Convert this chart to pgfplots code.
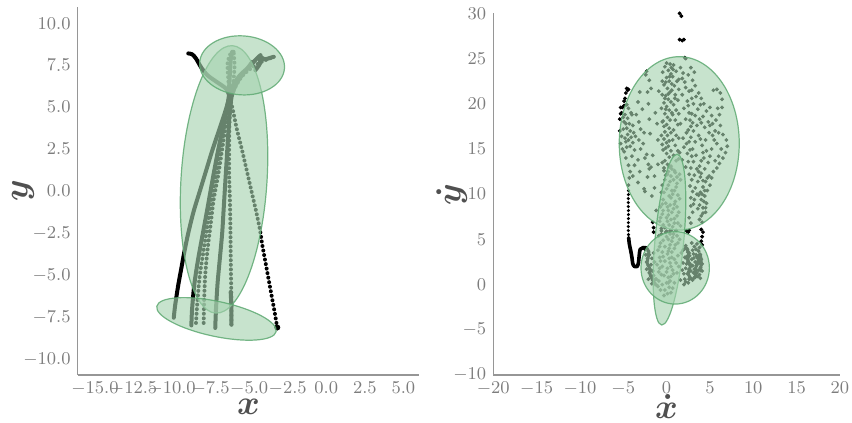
\documentclass[border=0pt]{standalone}
\usepackage{pgfplots}
\pgfplotsset{compat=1.18}
\usepackage{bm}
\definecolor{ellfill}{RGB}{165,210,175}
\definecolor{elledge}{RGB}{95,170,115}
\definecolor{axgrey}{RGB}{150,150,150}
\definecolor{ticktext}{RGB}{125,125,125}
\definecolor{labtext}{RGB}{80,80,80}
\begin{document}
\begin{tikzpicture}
\tikzset{ell/.style={fill=ellfill, fill opacity=0.62, draw=elledge, draw opacity=0.85, line width=0.6pt}}
\pgfplotsset{
  traj/.style={black, line width=2pt, line cap=round, line join=round, smooth, no marks},
  dots/.style={black, line width=2pt, line cap=round, dash pattern=on 0pt off 2.3pt, smooth, no marks},
  pts/.style={black, only marks, mark=*, mark size=0.75pt},
  base/.style={scale only axis, set layers, axis x line=bottom, axis y line=left,
    axis line style={-, axgrey, line width=0.7pt}, major tick length=0pt, tick style={draw=none},
    tick label style={font=\fontsize{8.7}{10}\selectfont, text=ticktext},
    label style={font=\fontsize{16}{18}\selectfont, text=labtext, inner sep=0pt}, clip=false}
}
% ---------------- left panel ----------------
\begin{axis}[base, at={(0pt,0pt)}, anchor=south west, width=170.7pt, height=184.2pt,
  xmin=-16.12, xmax=6.02, ymin=-10.95, ymax=10.99,
  xtick={-15,-12.5,-10,-7.5,-5,-2.5,0,2.5,5}, ytick={-10,-7.5,-5,-2.5,0,2.5,5,7.5,10},
  xticklabel style={/pgf/number format/fixed, /pgf/number format/fixed zerofill, /pgf/number format/precision=1},
  yticklabel style={/pgf/number format/fixed, /pgf/number format/fixed zerofill, /pgf/number format/precision=1},
  xlabel={$\bm{x}$}, ylabel={$\bm{y}$},
  xlabel style={at={(axis description cs:0.5,-0.087)}, anchor=center},
  ylabel style={at={(axis description cs:-0.16,0.5)}, anchor=center}]
\addplot[dots] coordinates {(-3.18,-8.12) (-3.35,-7.2) (-3.55,-6.2) (-3.75,-5.2) (-3.95,-4.2) (-4.15,-3.2) (-4.3,-2.3) (-4.55,-1.2) (-4.8,-0.2) (-5.1,1.0) (-5.45,2.4) (-5.8,3.7) (-6.05,4.8) (-6.25,5.6)};
\addplot[traj] coordinates {(-6.25,5.6) (-6.5,6.1) (-7.1,6.5) (-7.7,6.9) (-8.1,7.35) (-8.45,7.9) (-8.7,8.15) (-8.95,8.2)};
\addplot[black, only marks, mark=*, mark size=1.3pt] coordinates {(-3.18,-8.12)};
\addplot[traj] coordinates {(-9.89,-7.54) (-9.8,-6.8) (-9.6,-5.6) (-9.4,-4.6) (-9.2,-3.6) (-8.95,-2.5) (-8.6,-1.2) (-8.2,0.0) (-7.8,1.2) (-7.4,2.4) (-7.0,3.5) (-6.6,4.6) (-6.35,5.4) (-6.3,6.2) (-6.25,7.0) (-6.2,7.8) (-6.1,8.3)};
\addplot[traj] coordinates {(-8.75,-8.0) (-8.7,-7.0) (-8.55,-5.5) (-8.3,-4.0) (-8.0,-2.5) (-7.7,-1.0) (-7.35,0.8) (-7.0,2.5) (-6.65,4.0) (-6.4,5.2) (-6.1,6.2) (-5.6,6.9) (-5.0,7.4) (-4.5,7.9) (-4.26,8.1)};
\addplot[dots] coordinates {(-8.45,-7.85) (-8.35,-6.5) (-8.2,-5.0) (-7.95,-3.5) (-7.7,-2.0) (-7.4,-0.3) (-7.05,1.5) (-6.75,3.2) (-6.45,4.6) (-6.3,5.6) (-6.35,6.6) (-6.4,7.6) (-6.2,8.2) (-6.0,8.3)};
\addplot[dots] coordinates {(-7.95,-7.85) (-7.92,-6.5) (-7.85,-5.0) (-7.7,-3.5) (-7.5,-2.0) (-7.3,-0.5) (-7.0,1.0) (-6.75,2.5) (-6.5,4.0) (-6.3,5.0) (-6.0,6.0) (-5.5,6.8) (-4.9,7.3) (-4.2,7.7) (-3.4,8.0)};
\addplot[traj] coordinates {(-7.2,-8.15) (-7.15,-7.0) (-7.05,-5.5) (-6.9,-4.0) (-6.75,-2.5) (-6.65,-1.0) (-6.55,0.5) (-6.45,2.0) (-6.35,3.5) (-6.25,4.8) (-6.1,5.8) (-5.7,6.6) (-5.2,7.2) (-4.8,7.7)};
\addplot[dots] coordinates {(-6.15,-7.95) (-6.15,-6.5) (-6.18,-5.0) (-6.2,-3.5) (-6.22,-2.0) (-6.25,-0.5) (-6.3,1.0) (-6.3,2.5) (-6.28,4.0) (-6.2,5.2) (-6.05,6.3) (-5.95,7.4) (-6.0,8.2)};
\addplot[traj] coordinates {(-6.15,-7.95) (-6.15,-7.0) (-6.2,-6.0)};
\addplot[traj] coordinates {(-4.6,7.2) (-4.3,7.6) (-4.3,8.0) (-4.0,7.85) (-3.6,7.95) (-3.4,8.0)};
\begin{pgfonlayer}{axis foreground}
\draw[ell] (axis cs:-6.63,0.70) ellipse [x radius=21.5pt, y radius=67pt, rotate=-3.6];
\draw[ell] (axis cs:-5.46,7.49) ellipse [x radius=21.25pt, y radius=14.75pt, rotate=-4];
\draw[ell] (axis cs:-7.12,-7.61) ellipse [x radius=30.5pt, y radius=8.75pt, rotate=-12];
\end{pgfonlayer}
\end{axis}
% ---------------- right panel ----------------
\begin{axis}[base, at={(207.8pt,0pt)}, anchor=south west, width=173.3pt, height=180.8pt,
  xmin=-20, xmax=20, ymin=-10, ymax=30,
  xtick={-20,-15,...,20}, ytick={-10,-5,...,30},
  xlabel={$\bm{\dot{x}}$}, ylabel={$\bm{\dot{y}}$},
  xlabel style={at={(axis description cs:0.5,-0.086)}, anchor=center},
  ylabel style={at={(axis description cs:-0.12,0.5)}, anchor=center}]
% big cloud
\addplot[pts] coordinates {
(-5.3,19.6) (-5.2,19.0) (-4.9,19.8) (-4.6,19.9) (-4.4,19.5) (-4.8,18.8) (-4.5,18.4) (-4.9,18.0) (-4.3,17.8) (-4.6,17.3)
(-4.2,17.0) (-4.5,16.6) (-4.1,16.3) (-4.4,16.0) (-3.9,15.7) (-4.2,15.3) (-5.3,15.6) (-5.1,15.0) (-4.9,14.7) (-5.2,16.4)
(-4.7,15.8) (-3.9,17.6) (-3.8,16.8) (-4.0,18.8) (-5.0,17.2) (-5.4,17.0) (-4.7,14.0) (-4.4,13.2) (-4.2,12.5) (-4.3,11.8) (-4.4,11.0)
(-3.1,21.3) (-3.3,20.2) (-3.2,18.0) (-3.0,17.2) (-3.2,16.0) (-3.0,15.0) (-3.3,13.8) (-3.1,12.5) (-3.3,11.3)
(-2.3,23.6) (-2.4,23.2) (-2.0,22.6) (-2.2,21.3) (-2.1,20.0) (-2.0,18.3) (-2.3,14.4) (-2.5,14.0) (-2.1,13.3) (-2.0,12.8) (-1.8,13.0) (-2.5,10.3)
(-1.3,19.0) (-1.0,16.0) (-1.4,12.0) (-1.7,9.8) (-2.6,10.6) (-1.6,6.9) (-1.2,8.2)
(0.0,24.5) (0.4,24.4) (-0.2,24.1) (0.2,23.7) (0.5,23.3) (0.0,22.9) (0.3,22.5) (-0.3,22.1) (0.1,21.7) (0.4,21.3)
(-0.1,20.9) (0.2,20.5) (-0.3,20.1) (0.0,19.7) (0.3,19.3) (-0.2,18.9) (0.1,18.5) (-0.4,18.1) (0.0,17.7) (0.3,17.3)
(-0.2,16.9) (0.1,16.5) (-0.3,16.1) (0.0,15.7) (0.2,15.3) (-0.4,14.9) (0.0,14.5) (0.3,14.1) (-0.2,13.7) (0.1,13.3) (-0.3,12.9) (0.2,12.5)
(-0.5,22.5) (-0.5,21.0) (-0.6,19.5) (-0.5,18.0) (-0.6,16.5) (-0.5,15.5)
(0.8,24.3) (1.1,23.6) (0.7,23.0) (1.2,22.5) (0.9,22.0) (0.6,21.5) (1.0,21.0) (1.3,20.4) (0.8,19.9) (1.1,19.3)
(0.7,18.8) (1.0,18.2) (1.3,17.7) (0.8,17.1) (1.1,16.5) (0.7,16.0) (1.0,15.4) (1.3,14.8) (0.8,14.3) (1.1,13.7)
(1.6,24.0) (1.9,23.4) (2.2,21.8) (1.8,21.0) (2.4,20.3) (2.0,19.5) (2.6,19.0) (2.2,18.3) (1.6,17.8) (2.8,17.5)
(2.3,16.8) (1.9,16.2) (2.6,15.8) (2.0,15.2) (1.5,14.6) (2.4,14.5) (1.8,13.8) (2.2,13.0) (1.5,12.2) (1.8,22.8) (1.4,22.7)
(2.8,24.0) (3.2,23.5) (3.0,22.6) (3.3,22.0) (2.9,21.5) (3.4,20.8) (3.1,20.0) (3.6,19.4) (3.3,18.7) (3.8,18.3)
(3.5,17.6) (3.1,17.0) (3.7,16.5) (3.3,15.8) (3.0,15.0) (3.4,14.3) (3.1,13.6) (3.5,12.8) (3.2,12.1) (3.6,11.4)
(3.3,10.7) (3.5,10.0) (3.2,9.4) (2.8,8.7) (3.0,8.0) (2.6,7.4) (2.8,6.8)
(4.0,20.6) (4.3,20.0) (4.6,19.2) (4.2,18.6) (4.8,18.0) (4.4,17.4) (4.9,16.8) (4.5,16.0) (4.1,15.4) (4.6,14.8)
(4.3,14.0) (4.8,13.5) (4.4,12.8) (4.9,12.0) (4.5,11.4) (4.2,10.8) (4.7,10.4) (4.4,9.8) (4.0,9.4) (4.6,9.0)
(4.2,8.5) (4.5,8.0) (4.0,7.6) (3.9,11.9) (3.8,13.1) (3.9,10.2) (4.1,10.0) (4.3,9.2) (3.8,8.8) (4.2,11.5) (4.0,12.3)
(5.4,21.5) (5.8,21.6) (6.2,21.2) (6.4,20.5) (6.4,19.6) (6.1,18.8) (5.7,18.2) (5.3,17.8) (5.6,17.0) (6.0,16.8)
(6.5,16.6) (6.9,16.0) (7.0,15.3) (6.8,14.6) (6.5,14.0) (6.1,13.4) (5.8,12.9) (5.4,12.5) (5.2,11.8) (5.0,11.0)
(5.5,16.0) (5.2,15.0) (5.0,14.2)
(0.55,24.0) (-0.45,23.5) (0.75,23.8) (0.35,23.0) (-0.1,22.4) (0.6,22.2) (1.4,21.6) (0.2,21.1) (-0.2,20.6) (0.5,20.2)
(0.95,20.6) (-0.1,19.4) (0.6,19.0) (1.4,18.9) (0.4,18.2) (-0.3,17.5) (0.5,16.8) (1.4,16.2) (0.3,15.9) (-0.1,15.1)
(0.5,14.8) (1.4,13.9) (-0.5,13.5) (0.5,13.1) (0.9,12.6) (-0.1,12.1) (1.6,11.6) (1.2,11.2)
(2.5,23.2) (2.1,22.4) (2.6,21.4) (2.9,20.6) (2.5,19.8) (2.9,18.9) (2.7,18.2) (3.0,17.9) (2.5,17.1) (2.8,16.3)
(2.3,15.6) (2.7,14.9) (2.9,14.2) (2.5,13.6) (2.8,12.9) (2.6,12.2) (2.9,11.6) (2.7,10.9) (3.0,10.3) (2.8,9.6) (3.1,8.9)
(3.7,21.2) (3.9,19.9) (4.0,17.9) (3.9,16.1) (4.2,14.6) (4.0,13.7) (3.7,12.5) (4.4,10.4) (3.7,9.9) (4.2,7.9) (3.8,7.2) (4.5,8.5) (4.7,11.8) (3.6,8.4) (4.1,6.9)
(5.0,19.6) (5.2,18.7) (5.0,17.6) (5.3,16.5) (5.8,15.6) (6.3,15.0) (6.0,14.2) (5.6,13.7) (5.9,19.5) (6.2,17.6)
(-3.5,18.8) (-3.6,16.4) (-3.7,14.9) (-2.8,19.4) (-2.6,16.8) (-2.7,15.6) (-1.9,16.7) (-1.8,21.7) (-1.6,14.3) (-2.2,11.9) (-1.4,10.7) (-1.0,13.3) (-1.1,17.8) (-0.9,21.4)
(-4.8,16.2) (-4.6,15.2) (-5.0,18.5) (-4.1,19.0) (-4.7,17.8) (-4.0,14.2) (-3.7,13.2) (-3.9,12.0)
};
% thin ellipse interior
\addplot[pts] coordinates {
(-0.5,11.0) (-0.6,10.2) (-0.4,9.4) (-0.7,8.6) (-0.5,7.8) (-0.8,7.0) (-0.6,6.2) (-0.9,5.4) (-0.7,4.6) (-1.0,3.8)
(-0.8,3.0) (-1.1,2.2) (-0.9,1.4) (-1.2,0.6) (-1.0,-0.2)
(0.3,13.0) (0.1,12.2) (0.4,11.4) (0.0,10.6) (0.3,9.8) (-0.1,9.0) (0.2,8.2) (0.0,7.4) (0.3,6.6) (-0.1,5.8)
(0.2,5.0) (-0.2,4.2) (0.1,3.4) (-0.2,2.6) (0.1,1.8) (-0.3,1.0) (0.0,0.2) (-0.2,-0.6)
(1.0,12.4) (0.8,11.6) (1.1,10.8) (0.7,10.0) (1.0,9.2) (0.8,8.4) (1.2,7.6) (0.9,6.8) (1.1,6.0) (0.7,5.2)
(1.0,4.4) (0.6,3.6) (0.9,2.8) (0.5,2.0) (0.8,1.2) (0.4,0.4) (0.7,-0.4)
(1.5,9.5) (1.4,8.0) (1.6,6.5) (1.5,5.0) (1.7,3.5) (1.4,2.0) (1.6,0.5)
(0.5,12.0) (0.6,10.4) (0.4,8.8) (0.5,7.2) (0.4,5.6) (0.3,4.0) (0.4,2.4) (0.2,0.8) (0.5,-0.9) (-0.3,-1.2) (0.1,-1.0)
(-0.3,12.6) (0.6,12.8) (1.2,11.9) (-0.2,11.6) (0.2,11.0) (0.9,10.4) (-0.3,10.2) (1.3,9.9) (0.5,9.6) (-0.5,8.9)
(0.9,8.9) (0.1,8.6) (1.2,8.6) (-0.4,8.2) (0.6,8.0) (0.2,7.7) (-0.7,7.4) (0.9,7.3) (0.1,7.0) (-0.4,6.6)
(0.7,6.4) (1.3,6.8) (-0.2,6.3) (0.5,6.0) (-0.6,5.6) (0.8,5.6) (1.2,5.4) (0.0,5.3) (-0.4,4.9) (0.6,4.8)
(1.3,4.6) (-0.8,4.2) (0.4,4.4) (0.9,4.0) (-0.5,3.6) (0.2,3.7) (1.3,3.2) (-0.4,3.1) (0.6,3.0) (-0.7,2.6)
(0.3,2.9) (1.1,2.4) (-0.5,2.0) (0.7,1.6) (-0.8,1.8) (0.0,1.4) (1.2,1.3) (-0.6,1.1) (0.5,0.9) (-0.9,0.4) (0.2,0.2) (0.9,0.2) (-0.5,0.0) (0.3,-0.3) (-0.7,-0.6)
};
% circle interior
\addplot[pts] coordinates {
(-2.1,3.7) (-2.0,3.3) (-2.2,2.9) (-2.3,2.5) (-2.1,2.1) (-1.9,1.7) (-2.0,1.3) (-1.8,0.9) (-1.6,0.5) (-1.4,0.2)
(-1.1,-0.1) (-1.6,1.5) (-1.4,2.5) (-1.5,3.5)
(2.2,4.3) (2.4,3.9) (2.6,3.5) (2.3,3.1) (2.5,2.6) (2.8,2.2) (2.6,1.7) (2.4,1.2) (2.7,0.8) (3.0,0.5)
(3.3,0.8) (3.5,1.3) (3.2,1.7) (3.0,2.1) (3.3,2.5) (3.6,2.9) (3.4,3.3) (3.7,3.7) (3.9,3.3) (4.0,2.8)
(3.8,2.4) (3.9,1.9) (4.1,1.5) (3.8,1.1) (2.1,0.6) (2.0,1.2) (2.2,1.8) (1.9,2.4) (2.1,3.0) (3.0,3.8)
(3.2,4.2) (2.9,4.6) (3.5,4.5) (2.0,0.0) (2.5,0.2) (2.35,2.85) (2.65,3.2) (3.15,2.95) (3.45,2.1) (3.65,1.6)
(-2.5,3.9) (-2.4,3.3) (-1.7,2.9) (-1.8,2.2) (-2.3,1.7) (-1.5,1.0) (-1.3,0.6) (-2.1,0.6) (-1.7,0.1)
(2.15,4.0) (2.45,3.6) (2.3,2.3) (2.6,2.4) (2.9,2.8) (3.1,3.4) (3.4,3.9) (3.8,4.1) (3.5,3.1) (3.8,2.9)
(4.1,2.3) (3.6,2.3) (3.6,0.9) (3.1,1.3) (2.8,1.5) (2.2,0.3) (2.6,0.6) (3.9,0.7) (1.9,3.8) (1.8,1.6)
};
\addplot[traj, line width=1.5pt] coordinates {(-2.3,4.05) (-2.05,3.6) (-2.15,2.9) (-2.25,2.4) (-1.95,1.8) (-1.9,1.1) (-1.6,0.5) (-1.2,-0.1)};
\addplot[traj, line width=1.5pt] coordinates {(2.3,4.1) (2.55,3.4) (2.45,2.6) (2.75,2.0) (2.5,1.3) (2.85,0.6) (3.3,0.9) (3.35,1.8) (3.65,2.7) (3.85,3.4) (4.0,2.5) (3.9,1.5)};
% black points outside ellipses
\addplot[pts] coordinates {
(1.5,30.0) (1.7,29.7) (1.5,27.1) (2.0,27.1) (1.8,27.0) (2.1,25.1) (2.2,25.0)
(-4.6,21.7) (-4.5,21.5) (-4.4,21.6) (-4.7,21.2) (-4.8,20.6) (-4.9,20.3) (-5.1,19.6) (-5.3,18.9) (-5.4,18.3)
(-1.5,6.3) (-1.5,5.8) (-0.6,5.95) (0.0,5.9) (0.4,5.95) (2.3,5.95) (2.5,5.8) (2.6,6.0) (4.0,6.1) (4.2,5.8) (4.1,5.3) (4.0,4.8) (4.1,4.4)
};
\addplot[dots, line width=1.7pt, dash pattern=on 0pt off 2.0pt] coordinates {(-4.4,10.4) (-4.42,9.0) (-4.4,7.6) (-4.42,6.2) (-4.38,5.2)};
\addplot[traj, line width=1.8pt] coordinates {(-4.38,5.2) (-4.3,4.5) (-4.15,3.8) (-4.0,3.0) (-3.9,2.3) (-3.7,2.0) (-3.4,2.0) (-3.25,2.4) (-3.15,3.3) (-3.05,3.9) (-2.7,4.1) (-2.3,4.05)};
\begin{pgfonlayer}{axis foreground}
\draw[ell] (axis cs:1.46,15.62) ellipse [x radius=30pt, y radius=43.35pt];
\draw[ell] (axis cs:0.33,4.98) ellipse [x radius=7.2pt, y radius=42.9pt, rotate=-5.2];
\draw[ell] (axis cs:0.99,1.85) ellipse [x radius=17.1pt, y radius=18.1pt];
\end{pgfonlayer}
\end{axis}
\pgfresetboundingbox
\path[use as bounding box] (-38.85pt,-24pt) rectangle (387.15pt,187.5pt);
\end{tikzpicture}
\end{document}
